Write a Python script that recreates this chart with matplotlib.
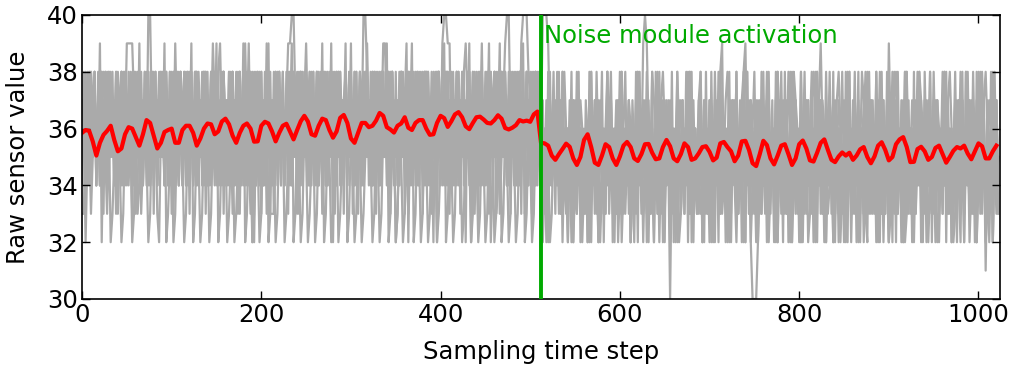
import numpy as np
import matplotlib
matplotlib.use("Agg")
import matplotlib.pyplot as plt

# ---------------- data ----------------
X_LABEL = "Sampling time step"
Y_LABEL = "Raw sensor value"
EVENT_STEP = 512
EVENT_TEXT = "Noise module activation"
X_TICKS = [0, 200, 400, 600, 800, 1000]
Y_TICKS = [30, 32, 34, 36, 38, 40]

# mean curve (red), sampled every 4 steps
RED_MEAN = [
    35.85, 35.95, 35.92, 35.55, 35.05, 35.5, 35.78, 35.92, 36.1, 35.6, 35.2, 35.3, 35.8, 36.05, 36.0,
    35.7, 35.4, 35.8, 36.3, 36.2, 35.75, 35.3, 35.5, 35.88, 35.95, 36.0, 35.5, 35.5, 35.95, 36.1,
    36.1, 35.85, 35.4, 35.65, 36.0, 36.18, 36.15, 35.8, 35.9, 36.25, 36.35, 36.15, 35.75, 35.5,
    35.85, 36.1, 36.18, 36.0, 35.54, 35.55, 36.1, 36.24, 36.18, 35.9, 35.55, 35.85, 36.1, 36.17, 35.9,
    35.62, 35.95, 36.26, 36.45, 36.25, 35.8, 35.75, 36.1, 36.35, 36.3, 35.95, 35.68, 35.9, 36.38, 36.48,
    36.2, 35.65, 35.5, 35.85, 36.2, 36.2, 36.05, 36.1, 36.28, 36.55, 36.45, 36.05,
    35.97, 35.86, 36.1, 36.18, 36.4, 36.03, 35.95, 36.2, 36.3, 36.3, 36.0, 35.78, 35.8, 36.2, 36.45,
    36.37, 36.06, 36.26, 36.5, 36.58, 36.4, 36.08, 35.98, 36.2, 36.4, 36.42, 36.32, 36.2, 36.18, 36.3,
    36.47, 36.35, 36.02, 35.97, 36.03, 36.12, 36.3, 36.25, 36.28, 36.24, 36.5, 36.6,
    35.5, 35.48, 35.4, 35.05, 34.9, 35.1, 35.28, 35.47, 35.36, 34.95, 34.72, 35.0, 35.6, 35.8, 35.35,
    34.8, 34.72, 35.05, 35.45, 35.35, 34.95, 34.72, 35.02, 35.4, 35.53, 35.35, 34.95, 34.86, 35.1, 35.45,
    35.46, 35.15, 34.92, 34.95, 35.35, 35.6, 35.38, 34.95, 34.85, 35.1, 35.48, 35.35, 34.9,
    34.95, 35.13, 35.35, 35.38, 35.18, 34.88, 34.98, 35.48, 35.53, 35.35, 35.2, 34.85, 35.05, 35.55, 35.57,
    35.25, 34.78, 34.68, 35.1, 35.57, 35.42, 34.95, 34.74, 35.05, 35.4, 35.45, 35.1, 34.72, 34.95, 35.45,
    35.58, 35.3, 34.88, 34.84, 35.15, 35.5, 35.62, 35.25, 34.9, 34.82, 35.02, 35.16, 35.05,
    35.15, 34.9, 35.05, 35.27, 35.35, 35.0, 34.78, 35.02, 35.4, 35.52, 35.25, 34.88, 35.0, 35.45, 35.62,
    35.7, 35.35, 34.82, 34.83, 35.28, 35.36, 35.2, 34.9, 35.0, 35.32, 35.4, 35.1, 34.8, 35.0, 35.22,
    35.35, 35.3, 35.4, 35.12, 34.92, 35.2, 35.48, 35.38, 34.95, 34.95, 35.2, 35.4,
]

# raw sensor traces (gray), one character per 2 steps: '0'..'9' -> 30..39, 'A' -> 40
TRACE_1 = (
    "33656876 57465786 56767584 69999767 56475AA6 57685746 76859676 48576845"
    "76578647 69758968 57684756 37696958 26587467 93335867 56799AA7 36857965"
    "58467586 47592687 56786593 67586AA8 57648576 99675862 36857926 57684756"
    "87562768 59AA9957 68576897 52675869 57692475 63579AA6 758649AA A8736576"
    "6AAA9658 45638546 52465734 65274563 45826547 35624568 46352647 59A96354"
    "46257465 05462547 36458264 57346528 46538945 62475346 28956200 02465374"
    "56248547 35462874 52643568 45379642 64527436 52846354 62457328 46537462"
    "54962835 46258364 53746285 46352746 38546257 46352847 53624586 15462574"
)
TRACE_2 = (
    "57486758 46857648 75684756 87465873 47586478 57468576 48675847 56874658"
    "47568475 86475684 75863748 56748576 84657485 67485764 85746857 64875648"
    "57684675 84756486 57486574 86574865 74865748 65748657 48657486 57486574"
    "68475628 47586748 57648756 84758647 58476583 47586478 65748675 84756847"
    "54654765 45643546 54765465 34654576 45634565 46547645 63546547 65456345"
    "64536547 54654635 46574564 53465475 64563546 54764536 45657465 43564576"
    "45635465 74564536 54657463 54645765 34564576 45365475 64563465 74564535"
    "46574563 54657465 34656475 45365465 74563546 54675463 54657465 43564574"
)
TRACE_3 = (
    "65748567 48576845 76548765 84576486 57468758 46758647 58467548 76485746"
    "85764857 46857648 57468574 86574865 74658476 58476584 75684765 84765847"
    "67584768 45768475 86475867 48576485 76486574 85674856 74865784 65874658"
    "47586748 57684756 48576847 56847568 47586758 46857486 57486574 86574875"
    "45636545 74563456 46574565 43546575 46536454 65743565 46375645 56473564"
    "56374565 46357645 65437564 56473546 54657345 64574536 56465734 56475645"
    "36475646 53457465 64537456 45647356 46574563 54657453 64565743 56463457"
    "54657345 64537465 56463457 64537456 45765435 64574563 46537456 45764535"
)
TRACE_4 = (
    "76857468 57468754 86457684 75863756 84756847 58467586 74685748 56748657"
    "48675847 56874658 47568475 86475682 75863748 56748576 84657485 67485764"
    "85746857 64875648 57684675 84756486 57486574 86574865 74865748 65748657"
    "48657486 57486574 68475628 47586748 57648756 84758647 58476583 47586478"
    "36528457 46358462 53746825 46372648 52463857 42658364 57246384 62537482"
    "53846275 43628457 36482563 74528364 52738462 58364257 46283546 72538462"
    "47362584 63528473 62584736 25847362 58473625 84736258 47362584 73625847"
    "36258473 62584736 25847362 58473625 84736258 47362584 73625847 36258473"
)
TRACE_5 = (
    "48374858 47483848 58483748 47584838 48574848 38475848 47384858 48473858"
    "84748384 85748483 74858473 84857483 74848573 84738485 74838485 73848574"
    "48584738 48573848 47384857 48384758 48473848 57483848 47583748 48574838"
    "84738485 74848385 74838475 84857384 74838485 74858473 84748385 74838485"
    "47362846 38472536 48263746 37284635 27463847 26374836 47253846 37482634"
    "58362745 38264735 48263745 38274635 27483645 37264835 47283645 27384635"
    "46382736 47283645 38264735 48273635 47382645 37284635 48263745 37482635"
    "38264735 47283645 37482635 48263745 38274635 27463847 36284735 47382645"
)
TRACE_6 = (
    "65758676 57686567 75637686 56758675 67586576 85675768 65736586 57687567"
    "76586576 85765768 67576586 75686536 58675767 86576586 75768657 68576578"
    "56768576 67586376 85767586 57686576 75867586 56787576 65867536 85767586"
    "67576858 65768576 75867658 67536586 75867586 57686578 65768576 86576858"
    "56475647 56475864 75648576 45678564 75645768 45675846 57645786 45756487"
    "64578645 76458674 56487645 78564576 48576457 86457645 78645768 45764587"
    "56478645 75864576 48576457 86457648 57645786 45768457 64587645 76485764"
    "57645786 45768457 64587645 76485764 56478645 75864576 48576457 86457645"
)
TRACE_7 = (
    "56256356 65926536 23566523 65562365 93565236 56326592 35623656 52365923"
    "65236562 36592365 62356235 65923652 36523659 23652365 62356923 65236523"
    "56236592 36523562 35692365 23652359 65236523 65923562 36523656 92365236"
    "52365623 56923652 36562365 92365236 52365623 69236523 65236592 36523656"
    "52465236 54835642 65243562 45628456 23546835 64356243 56245628 45623542"
    "83546356 24356235 64835643 56245362 45628456 23564835 62456243 54635628"
    "45623562 84562456 23456235 62845623 54623562 45628356 23546835 64356283"
    "54235628 45623562 83564356 24356235 64835623 54283562 45628356 23562845"
)
TRACES = [TRACE_1, TRACE_2, TRACE_3, TRACE_4, TRACE_5, TRACE_6, TRACE_7]


def decode(s):
    s = s.replace(" ", "")
    return np.array([30 + int(c, 16) for c in s], dtype=float)


# ---------------- figure ----------------
plt.rcParams["font.family"] = ["DejaVu Sans"]
FS = 17.5
fig = plt.figure(figsize=(10.12, 3.70), dpi=100)
ax = fig.add_axes([82 / 1012, 71 / 370, 918 / 1012, 284 / 370])

for tr in TRACES:
    vals = decode(tr)
    xs = np.linspace(0, 1022, len(vals))
    ax.plot(xs, vals, color="#aaaaaa", lw=1.6, zorder=1)

red = np.array(RED_MEAN)
ax.plot(np.linspace(0, 1020, len(red)), red, color="red", lw=3.0, zorder=2)

ax.axvline(EVENT_STEP, color="#00aa00", lw=2.8, zorder=3)
ax.text(EVENT_STEP + 3, 39.25, EVENT_TEXT, color="#00aa00", fontsize=FS,
        va="center", ha="left", zorder=4)

ax.set_xlim(0, 1024)
ax.set_ylim(30, 40)
ax.set_xticks(X_TICKS)
ax.set_yticks(Y_TICKS)
ax.tick_params(direction="in", top=True, right=True, length=6, width=1,
               labelsize=FS, pad=3)
for sp in ax.spines.values():
    sp.set_linewidth(1.2)
ax.set_xlabel(X_LABEL, fontsize=FS, labelpad=9)
ax.set_ylabel(Y_LABEL, fontsize=FS, labelpad=12)

fig.savefig("out.png", dpi=100, facecolor="white")
